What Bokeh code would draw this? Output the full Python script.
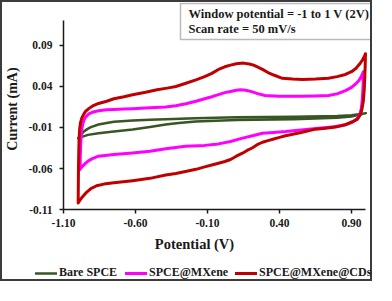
from bokeh.plotting import figure
from bokeh.models import (Range1d, FixedTicker, NumeralTickFormatter, Label,
                          BoxAnnotation, Legend, LegendItem)
from bokeh.embed import file_html
from bokeh.resources import INLINE

# ---------------- data (potential V, current mA) ----------------
bare_fwd_x = [-0.998, -0.98, -0.96, -0.935, -0.91, -0.857, -0.80, -0.75, -0.62, -0.5, -0.39,
              -0.183, 0.1, 0.5, 0.8, 0.9, 1.0]
bare_fwd_y = [-0.023, -0.019, -0.015, -0.012, -0.0095, -0.0064, -0.0045, -0.003, -0.0014, -0.0005,
              0.0002, 0.0014, 0.0025, 0.003, 0.004, 0.005, 0.0075]
bare_rev_x = [1.0, 0.9, 0.8, 0.5, 0.1, -0.183, -0.3, -0.39, -0.5, -0.62, -0.75, -0.857, -0.93, -0.998]
bare_rev_y = [0.0075, 0.0035, 0.002, 0.0, -0.001, -0.0026, -0.0045, -0.0064, -0.0095, -0.0124,
              -0.015, -0.017, -0.019, -0.023]

mx_fwd_x = [-0.985, -0.984, -0.982, -0.979, -0.975, -0.968, -0.958, -0.945, -0.925, -0.90, -0.857,
            -0.80, -0.75, -0.68, -0.62, -0.5, -0.39, -0.32, -0.25, -0.18, -0.12, -0.07, -0.024, 0.02,
            0.06, 0.10, 0.129, 0.165, 0.2, 0.254, 0.30, 0.393, 0.55, 0.65, 0.74, 0.80, 0.858, 0.90,
            0.928, 0.95, 0.968, 0.983]
mx_fwd_y = [-0.061, -0.05, -0.038, -0.026, -0.016, -0.007, -0.001, 0.003, 0.0065, 0.0085, 0.0105,
            0.0115, 0.012, 0.0125, 0.013, 0.014, 0.015, 0.0165, 0.019, 0.022, 0.025, 0.0275, 0.030,
            0.0325, 0.034, 0.0355, 0.036, 0.0355, 0.034, 0.031, 0.029, 0.028, 0.028, 0.0285, 0.029,
            0.031, 0.035, 0.039, 0.043, 0.047, 0.052, 0.058]
mx_rev_x = [0.983, 0.981, 0.978, 0.974, 0.968, 0.958, 0.94, 0.91, 0.858, 0.78, 0.671, 0.55, 0.442,
            0.36, 0.282, 0.213, 0.143, 0.06, -0.024, -0.12, -0.253, -0.39, -0.5, -0.62, -0.75,
            -0.857, -0.90, -0.93, -0.955, -0.972, -0.985]
mx_rev_y = [0.058, 0.045, 0.033, 0.022, 0.013, 0.006, 0.001, -0.003, -0.0067, -0.009, -0.0108,
            -0.013, -0.015, -0.016, -0.017, -0.020, -0.023, -0.027, -0.030, -0.0318, -0.033, -0.036,
            -0.039, -0.041, -0.043, -0.045, -0.048, -0.051, -0.055, -0.058, -0.061]

cd_fwd_x = [-0.998, -0.997, -0.996, -0.994, -0.992, -0.988, -0.982, -0.972, -0.96, -0.947, -0.925,
            -0.90, -0.857, -0.80, -0.75, -0.68, -0.62, -0.53, -0.45, -0.38, -0.32, -0.25, -0.18,
            -0.12, -0.07, -0.024, 0.02, 0.06, 0.10, 0.15, 0.19, 0.22, 0.25, 0.282, 0.32, 0.36, 0.42,
            0.49, 0.56, 0.65, 0.74, 0.80, 0.858, 0.90, 0.93, 0.955, 0.975, 0.99, 0.997]
cd_fwd_y = [-0.102, -0.08, -0.06, -0.04, -0.025, -0.012, -0.004, 0.002, 0.006, 0.0096, 0.013,
            0.016, 0.0193, 0.022, 0.025, 0.0275, 0.030, 0.033, 0.036, 0.038, 0.040, 0.044, 0.048,
            0.052, 0.056, 0.0608, 0.064, 0.066, 0.0678, 0.0685, 0.0675, 0.066, 0.0635, 0.0608, 0.057,
            0.054, 0.050, 0.049, 0.0486, 0.049, 0.050, 0.052, 0.0547, 0.058, 0.062, 0.067, 0.072,
            0.077, 0.080]
cd_rev_x = [0.997, 0.995, 0.992, 0.988, 0.982, 0.972, 0.96, 0.94, 0.907, 0.85, 0.789, 0.72, 0.65,
            0.6, 0.55, 0.5, 0.442, 0.40, 0.36, 0.32, 0.282, 0.245, 0.21, 0.175, 0.143, 0.10, 0.06,
            0.02, -0.024, -0.07, -0.12, -0.18, -0.253, -0.32, -0.39, -0.5, -0.62, -0.75, -0.82,
            -0.87, -0.91, -0.94, -0.96, -0.975, -0.987, -0.998]
cd_rev_y = [0.080, 0.065, 0.050, 0.035, 0.022, 0.012, 0.005, 0.0, -0.003, -0.007, -0.0095, -0.011,
            -0.012, -0.014, -0.016, -0.018, -0.020, -0.022, -0.024, -0.026, -0.028, -0.031, -0.035,
            -0.038, -0.0413, -0.045, -0.049, -0.0515, -0.0535, -0.0557, -0.058, -0.061, -0.0636,
            -0.066, -0.068, -0.072, -0.0748, -0.0775, -0.079, -0.081, -0.0845, -0.089, -0.093,
            -0.096, -0.099, -0.102]

x_ticks = [-1.10, -0.60, -0.10, 0.40, 0.90]
y_ticks = [-0.11, -0.06, -0.01, 0.04, 0.09]
series_names = ["Bare SPCE", "SPCE@MXene", "SPCE@MXene@CDs"]
series_colors = ["#375623", "#FF00FF", "#C00000"]
series_widths = [2.5, 3, 3]

FONT = "Liberation Serif"
INK = "#1a1a1a"

# the frame fills the whole canvas; axes are pinned inside it with fixed_location
p = figure(width=372, height=281, output_backend="svg", toolbar_location=None,
           x_range=Range1d(-1.5236, 1.0597), y_range=Range1d(-0.2002, 0.1424),
           min_border=0)
p.styles = {"border": "2px solid #3c3c3c"}
p.outline_line_color = None
p.grid.visible = False
p.background_fill_color = "white"
p.border_fill_color = "white"

for ax, ticks, b, loc in ((p.xaxis[0], x_ticks, (-1.1, 1.0), -0.11),
                          (p.yaxis[0], y_ticks, (-0.11, 0.12), -1.1)):
    ax.ticker = FixedTicker(ticks=ticks)
    ax.formatter = NumeralTickFormatter(format="0.00")
    ax.bounds = b
    ax.fixed_location = loc
    ax.axis_line_color = INK
    ax.axis_line_width = 1.5
    ax.major_tick_line_color = INK
    ax.major_tick_line_width = 1.5
    ax.major_tick_out = 4
    ax.major_tick_in = 0
    ax.minor_tick_line_color = None
    ax.major_label_text_font = FONT
    ax.major_label_text_font_style = "bold"
    ax.major_label_text_font_size = "11.5px"
    ax.major_label_text_color = INK
p.xaxis[0].major_label_standoff = 5
p.yaxis[0].major_label_standoff = 7

fwd = [(bare_fwd_x, bare_fwd_y), (mx_fwd_x, mx_fwd_y), (cd_fwd_x, cd_fwd_y)]
rev = [(bare_rev_x, bare_rev_y), (mx_rev_x, mx_rev_y), (cd_rev_x, cd_rev_y)]
legend_left = [33, 123, 233]   # screen px of each legend entry, as in the original
for (fx, fy), (rx, ry), name, c, w, lx in zip(fwd, rev, series_names, series_colors,
                                               series_widths, legend_left):
    r = p.line(fx + rx, fy + ry, line_color=c, line_width=w, line_join="round", line_cap="round")
    lg = Legend(items=[LegendItem(label=name, renderers=[r])], orientation="horizontal",
                location=(lx, 3), glyph_width=22, glyph_height=14, label_height=14,
                label_standoff=2, padding=0, margin=0, border_line_color=None,
                background_fill_alpha=0, label_text_font=FONT, label_text_font_style="bold",
                label_text_font_size="12px", label_text_color=INK)
    p.add_layout(lg, "center")

# axis titles
p.add_layout(Label(x=-0.1903, y=-0.1515, text="Potential (V)", text_font=FONT,
                   text_font_style="bold", text_font_size="14.5px", text_color=INK,
                   text_align="center", text_baseline="middle"))
p.add_layout(Label(x=-1.4542, y=0.0125, text="Current (mA)", text_font=FONT,
                   text_font_style="bold", text_font_size="14px", text_color=INK,
                   text_align="center", text_baseline="middle", angle=1.5708))

# info box
p.add_layout(BoxAnnotation(left=-0.2875, right=1.054, top=0.1412, bottom=0.0973,
                           fill_color="white", fill_alpha=1, line_color=INK, line_width=1.5))
p.add_layout(Label(x=-0.232, y=0.1284, text="Window potential = -1 to 1 V (2V)", text_font=FONT,
                   text_font_style="bold", text_font_size="12.5px", text_color=INK,
                   text_baseline="middle"))
p.add_layout(Label(x=-0.232, y=0.1095, text="Scan rate = 50 mV/s", text_font=FONT,
                   text_font_style="bold", text_font_size="12.5px", text_color=INK,
                   text_baseline="middle"))

open("out.html", "w").write(file_html(p, INLINE))
